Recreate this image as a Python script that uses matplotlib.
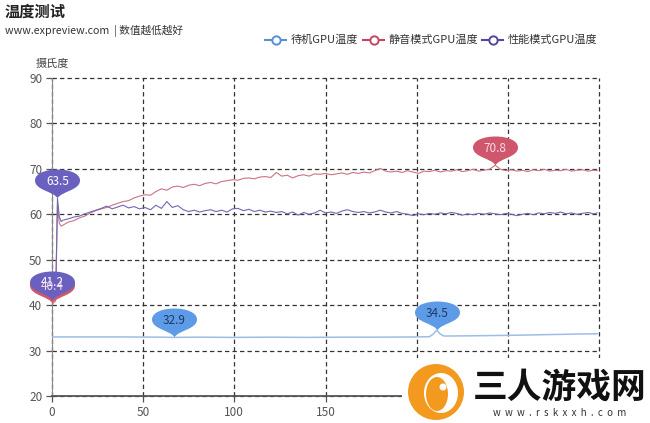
import matplotlib
matplotlib.use("Agg")
import matplotlib.pyplot as plt
from matplotlib.path import Path
from matplotlib.lines import Line2D
from matplotlib.patches import Rectangle, Circle, Ellipse

plt.rcParams['font.family'] = ['Noto Sans CJK SC', 'DejaVu Sans']

# ---------------- data ----------------
series_names = ["待机GPU温度", "静音模式GPU温度", "性能模式GPU温度"]

idle_x = [0, 20, 40, 60, 67, 80, 100, 120, 140, 160, 180, 200, 207, 209, 211, 213, 215,
          230, 250, 270, 290, 299]
idle_y = [33.0, 33.0, 33.0, 32.95, 32.9, 32.95, 32.9, 32.95, 32.9, 32.95, 32.95, 33.0, 33.05,
          33.6, 34.5, 33.6, 33.2, 33.25, 33.35, 33.5, 33.65, 33.7]

load_x = [0, 1, 2, 3, 4, 5, 6, 9, 12, 15, 18, 21, 24, 27, 30, 33, 36, 39, 42, 45, 48, 51, 54,
          57, 60, 63, 66, 69, 72, 75, 78, 81, 84, 87, 90, 93, 96, 99, 102, 105, 108, 111, 114,
          117, 120, 123, 126, 129, 132, 135, 138, 141, 144, 147, 150, 153, 156, 159, 162, 165,
          168, 171, 174, 177, 180, 183, 186, 189, 192, 195, 198, 201, 204, 207, 210, 213, 216,
          219, 222, 225, 228, 231, 234, 237, 240, 243, 246, 249, 252, 255, 258, 261, 264, 267,
          270, 273, 276, 279, 282, 285, 288, 291, 294, 297, 299]

quiet_y = [40.4, 40.5, 41.0, 62.0, 58.0, 57.4, 57.6, 58.3, 58.6, 59.2, 59.6, 60.3, 60.8, 61.2,
           61.5, 62.0, 62.4, 62.8, 63.0, 63.6, 64.0, 64.3, 64.2, 65.0, 65.6, 65.3, 66.0, 66.2,
           65.9, 66.4, 66.6, 66.3, 66.8, 67.0, 66.7, 67.2, 67.4, 67.6, 67.5, 67.9, 68.0, 67.8,
           68.2, 68.3, 68.1, 69.2, 68.4, 68.6, 68.0, 68.5, 68.7, 68.4, 68.9, 68.8, 69.0, 68.7,
           68.9, 69.1, 68.8, 69.2, 69.0, 69.3, 69.1, 69.6, 70.1, 69.5, 69.3, 69.5, 69.2, 69.6,
           69.3, 69.0, 69.5, 69.4, 69.7, 69.3, 69.6, 69.5, 69.8, 69.4, 69.6, 69.9, 69.5, 69.7,
           69.9, 70.8, 69.9, 69.6, 69.8, 69.5, 69.7, 69.4, 69.8, 69.6, 69.9, 69.5, 69.7, 69.6,
           69.9, 69.5, 69.7, 69.8, 69.5, 69.7, 69.6]

perf_y = [41.2, 41.4, 42.0, 63.5, 59.5, 58.4, 58.7, 59.0, 59.4, 59.6, 60.1, 60.5, 60.9, 61.3,
          61.8, 61.2, 61.6, 62.0, 61.4, 61.7, 61.2, 61.5, 61.0, 62.0, 61.3, 62.8, 61.5, 61.9,
          61.0, 60.6, 60.9, 60.5, 60.8, 61.0, 60.6, 60.9, 60.5, 61.2, 61.3, 60.8, 61.1, 60.6,
          60.9, 60.5, 60.7, 60.4, 60.6, 60.1, 60.5, 59.8, 60.4, 60.0, 60.3, 60.9, 60.3, 60.5,
          60.2, 60.7, 61.0, 60.6, 60.4, 60.6, 60.3, 60.5, 60.9, 60.5, 60.3, 60.6, 60.2, 60.0,
          59.7, 60.1, 59.9, 60.2, 60.0, 60.3, 60.1, 60.4, 60.2, 59.8, 60.1, 59.9, 60.2, 60.0,
          60.3, 60.1, 59.9, 60.2, 60.0, 59.7, 60.0, 60.2, 59.9, 60.3, 60.1, 60.4, 60.2, 60.5,
          60.1, 60.3, 60.0, 60.2, 60.4, 60.1, 60.3]

x_ticks = [0, 50, 100, 150, 200, 250, 300]
y_ticks = [20, 30, 40, 50, 60, 70, 80, 90]

title = "温度测试"
subtitle = "www.expreview.com  | 数值越低越好"
y_name = "摄氏度"

# ---------------- styles ----------------
W, H, DPI = 650, 423, 100
line_colors = ["#9dbde8", "#cc7282", "#6f69b2"]
legend_colors = ["#5b8fd3", "#c4475f", "#53489c"]
pin_colors = ["#5e9be6", "#d0566b", "#6a60c0"]
pin_text_colors = ["#1f3a66", "#f6dde6", "white"]

fig = plt.figure(figsize=(W / DPI, H / DPI), dpi=DPI)
fig.patch.set_facecolor("white")


def fx(px):
    return px / W


def fy(py):
    return 1 - py / H


ax = fig.add_axes([fx(52), fy(396), fx(599) - fx(52), fy(78) - fy(396)])
ax.set_xlim(0, 300)
ax.set_ylim(20, 90)
ax.set_xticks(x_ticks)
ax.set_yticks(y_ticks)
ax.grid(True, color="#333333", linestyle=(0, (3.5, 2.5)), linewidth=0.9)
ax.set_axisbelow(True)
for gl in ax.get_xgridlines() + ax.get_ygridlines():
    gl.set_clip_on(False)
for s in ["top", "right"]:
    ax.spines[s].set_visible(False)
ax.spines["left"].set_color("#888888")
ax.spines["bottom"].set_color("#555555")
ax.spines["bottom"].set_linewidth(1.3)
ax.tick_params(axis="both", colors="#555555", labelsize=8.5, length=4, width=0.9)
ax.tick_params(axis="y", pad=3)
# tick labels lying under the watermark are not visible in the reference
for val, lab in zip(x_ticks, ax.get_xticklabels()):
    if val >= 200:
        lab.set_visible(False)

xs = [idle_x, load_x, load_x]
ys = [idle_y, quiet_y, perf_y]
lws = [1.1, 0.8, 0.8]
for i in range(3):
    ax.plot(xs[i], ys[i], color=line_colors[i], lw=lws[i], zorder=3)

# pin marker (tip at origin), in pixels
PH = 29.0
verts = [(0, 0), (3, 7), (22.5, 8), (22.5, 18), (22.5, 25), (12, PH), (0, PH),
         (-12, PH), (-22.5, 25), (-22.5, 18), (-22.5, 8), (-3, 7), (0, 0), (0, 0)]
codes = [Path.MOVETO] + [Path.CURVE4] * 12 + [Path.CLOSEPOLY]
pin = Path(verts, codes)
ms = 2 * PH * 72 / DPI

for i in range(3):
    xv, yv = xs[i], ys[i]
    imax = max(range(len(yv)), key=lambda k: yv[k])
    imin = min(range(len(yv)), key=lambda k: yv[k])
    for k in (imax, imin):
        ax.plot([xv[k]], [yv[k]], marker=pin, markersize=ms, color=pin_colors[i],
                markeredgewidth=0, linestyle="none", zorder=5 + i, clip_on=False)
        ax.annotate(f"{yv[k]:.1f}", (xv[k], yv[k]), xytext=(0, 17 * 72 / DPI),
                    textcoords="offset points", ha="center", va="center",
                    fontsize=8.5, color=pin_text_colors[i], zorder=10 + (2 - i),
                    annotation_clip=False)

# titles
fig.text(fx(5), fy(12), title, fontsize=11, fontweight="bold", color="#222222",
         ha="left", va="center")
fig.text(fx(5), fy(31), subtitle, fontsize=7.7, color="#333333", ha="left", va="center")
fig.text(fx(52), fy(64), y_name, fontsize=8, color="#444444", ha="center", va="center")

# legend
leg_x = [265, 363, 482]
leg_y = 40
for i in range(3):
    x0 = leg_x[i]
    fig.add_artist(Line2D([fx(x0), fx(x0 + 21)], [fy(leg_y), fy(leg_y)],
                          color=legend_colors[i], lw=1.5, transform=fig.transFigure))
    fig.add_artist(Line2D([fx(x0 + 10.5)], [fy(leg_y)], marker="o", markersize=6,
                          markerfacecolor="white", markeredgecolor=legend_colors[i],
                          markeredgewidth=1.4, transform=fig.transFigure))
    fig.text(fx(x0 + 26), fy(leg_y), series_names[i], fontsize=8, color="#333333",
             ha="left", va="center")

# watermark overlay
fig.add_artist(Rectangle((fx(402), 0), 1 - fx(402), fy(358), transform=fig.transFigure,
                         facecolor="white", edgecolor="none", zorder=20))
cx, cy = 436 / DPI, (H - 392) / DPI
fig.add_artist(Circle((cx, cy), 0.28, transform=fig.dpi_scale_trans,
                      facecolor="#f39a1e", edgecolor="none", zorder=21))
fig.add_artist(Ellipse((cx + 0.05, cy - 0.01), 0.34, 0.40, transform=fig.dpi_scale_trans,
                       facecolor="white", edgecolor="none", zorder=22))
fig.add_artist(Ellipse((cx + 0.01, cy - 0.02), 0.22, 0.34, transform=fig.dpi_scale_trans,
                       facecolor="#f39a1e", edgecolor="none", zorder=23))
fig.add_artist(Circle((cx + 0.07, cy + 0.05), 0.035, transform=fig.dpi_scale_trans,
                      facecolor="white", edgecolor="none", zorder=24))
fig.text(fx(560), fy(387), "三人游戏网", fontsize=25, fontweight="bold", color="#111111",
         ha="center", va="center", zorder=25)
fig.text(fx(560), fy(413), "w  w  w  .  r  s  k  x  x  h  .  c  o  m", fontsize=7,
         color="#333333", ha="center", va="center", zorder=25)

fig.savefig("out.png", dpi=DPI)
